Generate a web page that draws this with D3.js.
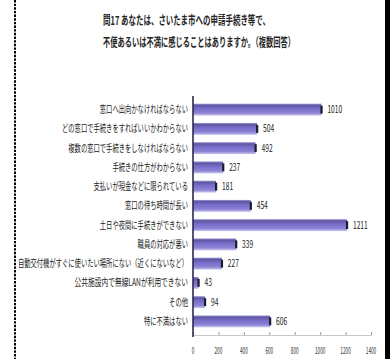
<!DOCTYPE html>
<html>
<head>
<meta charset="utf-8">
<script src="https://cdn.jsdelivr.net/npm/d3@7"></script>
<style>
body { margin: 0; background: #ffffff; }
svg { display: block; font-family: "Noto Sans CJK JP", sans-serif; }
</style>
</head>
<body>
<div id="chart"></div>
<script>
// DATA -----------------------------------------------------
var categories = [
  "窓口へ出向かなければならない",
  "どの窓口で手続きをすればいいかわからない",
  "複数の窓口で手続きをしなければならない",
  "手続きの仕方がわからない",
  "支払いが現金などに限られている",
  "窓口の待ち時間が長い",
  "土日や夜間に手続きができない",
  "職員の対応が悪い",
  "自動交付機がすぐに使いたい場所にない（近くにないなど）",
  "公共施設内で無線LANが利用できない",
  "その他",
  "特に不満はない"
];
var values = [1010, 504, 492, 237, 181, 454, 1211, 339, 227, 43, 94, 606];
var ticks = [0, 200, 400, 600, 800, 1000, 1200, 1400];
var titleLines = [
  "問17 あなたは、さいたま市への申請手続き等で、",
  "不便あるいは不満に感じることはありますか。（複数回答）"
];

// STRUCTURE ------------------------------------------------
var W = 390, H = 359;
var svg = d3.select("#chart").append("svg")
  .attr("width", W).attr("height", H);

var defs = svg.append("defs");
var grad = defs.append("linearGradient")
  .attr("id", "barGrad").attr("x1", 0).attr("y1", 0).attr("x2", 0).attr("y2", 1);
[["0%", "#a49dda"], ["14%", "#5f56a0"], ["40%", "#776cc8"], ["78%", "#8c83d6"], ["100%", "#cbc6ee"]]
  .forEach(function(s) { grad.append("stop").attr("offset", s[0]).attr("stop-color", s[1]); });

// frame: dotted line on the left, black strip on the right
svg.append("line")
  .attr("x1", 15).attr("x2", 15).attr("y1", 0).attr("y2", H)
  .attr("stroke", "#000").attr("stroke-width", 2)
  .attr("stroke-dasharray", "2.4,1.25");
svg.append("rect")
  .attr("x", 385).attr("y", 0).attr("width", 5).attr("height", H)
  .attr("fill", "#000");

// SCALES ---------------------------------------------------
var x = d3.scaleLinear().domain([0, 1400]).range([193, 371]);
var y = d3.scaleBand().domain(categories).range([100, 331])
  .paddingInner(0.38).paddingOuter(0.19);

// TITLE ----------------------------------------------------
svg.append("g").selectAll("text")
  .data(titleLines)
  .enter().append("text")
  .attr("x", 103)
  .attr("y", function(d, i) { return 25 + i * 22; })
  .attr("textLength", function(d, i) { return i === 0 ? 167 : 192; })
  .attr("lengthAdjust", "spacingAndGlyphs")
  .attr("font-size", 12)
  .attr("font-weight", "bold")
  .attr("fill", "#262626")
  .text(function(d) { return d; });

// AXES -----------------------------------------------------
var xAxis = svg.append("g")
  .attr("transform", "translate(0,335)")
  .call(d3.axisBottom(x).tickValues(ticks).tickSize(-3).tickPadding(0).tickFormat(""));
xAxis.select(".domain").attr("stroke", "#c8c8c8");
xAxis.selectAll(".tick line").attr("stroke", "#9a9a9a");

svg.append("g").selectAll("text")
  .data(ticks)
  .enter().append("text")
  .attr("x", function(d) { return x(d); })
  .attr("y", 354)
  .attr("text-anchor", "middle")
  .attr("textLength", function(d) { return String(d).length * 2.6; })
  .attr("lengthAdjust", "spacingAndGlyphs")
  .attr("font-size", 9)
  .attr("fill", "#333")
  .text(function(d) { return d; });

// BARS -----------------------------------------------------
var bars = svg.append("g");
bars.selectAll("rect.bar")
  .data(values)
  .enter().append("rect")
  .attr("class", "bar")
  .attr("x", x(0))
  .attr("y", function(d, i) { return y(categories[i]); })
  .attr("width", function(d) { return x(d) - x(0); })
  .attr("height", y.bandwidth())
  .attr("fill", "url(#barGrad)");

// dark bar-end caps
bars.selectAll("rect.cap")
  .data(values)
  .enter().append("rect")
  .attr("class", "cap")
  .attr("x", function(d) { return x(d) - 1; })
  .attr("y", function(d, i) { return y(categories[i]) + 2; })
  .attr("width", 2.2)
  .attr("height", y.bandwidth() - 4)
  .attr("fill", "#1c1c30");

// y axis line
svg.append("line")
  .attr("x1", x(0)).attr("x2", x(0)).attr("y1", 96).attr("y2", 337)
  .attr("stroke", "#2a2a50").attr("stroke-width", 1.6);

// value labels
svg.append("g").selectAll("text")
  .data(values)
  .enter().append("text")
  .attr("x", function(d) { return x(d) + 6; })
  .attr("y", function(d, i) { return y(categories[i]) + y.bandwidth() / 2 + 3.5; })
  .attr("textLength", function(d) { return String(d).length * 3.7; })
  .attr("lengthAdjust", "spacingAndGlyphs")
  .attr("font-size", 10)
  .attr("fill", "#222")
  .text(function(d) { return d; });

// category labels
svg.append("g").selectAll("text")
  .data(categories)
  .enter().append("text")
  .attr("x", 188)
  .attr("y", function(d) { return y(d) + y.bandwidth() / 2 + 3.5; })
  .attr("text-anchor", "end")
  .attr("textLength", function(d) { return d.length * 6.3; })
  .attr("lengthAdjust", "spacingAndGlyphs")
  .attr("font-size", 10)
  .attr("fill", "#222")
  .text(function(d) { return d; });
</script>
</body>
</html>
